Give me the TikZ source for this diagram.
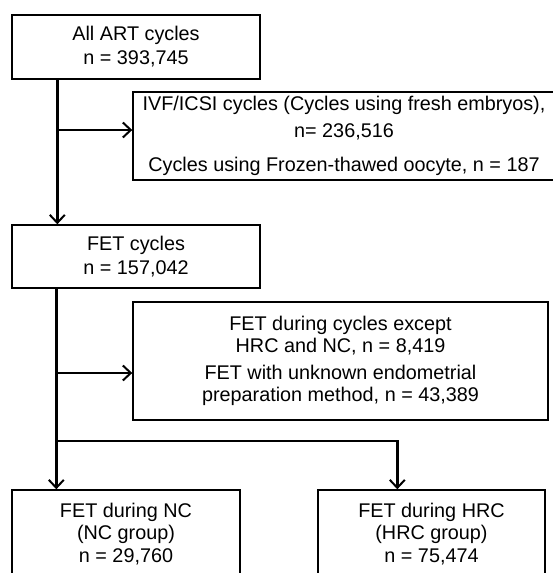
\documentclass[tikz,border=0pt]{standalone}
\usepackage{fontspec}
\setmainfont{Liberation Sans}
\usetikzlibrary{calc,arrows.meta}

\begin{document}
\begin{tikzpicture}[x=1pt,y=-1pt,
  box/.style={draw,line width=1.4pt,inner sep=0pt,align=center,
    font=\fontsize{19.8}{22.5}\selectfont},
  flow/.style={line width=2.4pt,-{Straight Barb[length=8pt,width=15pt,line width=2pt]}}]
\useasboundingbox (0,0) rectangle (553,573);
\clip (0,0) rectangle (553,573);
% boxes
\node[box,minimum width=248pt,minimum height=64pt] (all) at (136,47)
  {All ART cycles\\[1.5pt]n = 393,745};
\node[box,minimum width=422pt,minimum height=88pt] (fresh) at (344,136)
  {IVF/ICSI cycles (Cycles using fresh embryos),\\[4pt]n= 236,516\\[12pt]Cycles using Frozen-thawed oocyte, n = 187};
\node[box,minimum width=248pt,minimum height=63pt] (fet) at (136,256.5)
  {FET cycles\\[1.5pt]n = 157,042};
\node[box,minimum width=415pt,minimum height=118pt] (drop) at (340.5,361)
  {FET during cycles except\\HRC and NC, n = 8,419\\[4pt]FET with unknown endometrial\\preparation method, n = 43,389};
\node[box,minimum width=228pt,minimum height=88pt] (nc) at (126,534)
  {FET during NC\\(NC group)\\n = 29,760};
\node[box,minimum width=227pt,minimum height=88pt] (hrc) at (431.5,534)
  {FET during HRC\\(HRC group)\\n = 75,474};
% connectors
\coordinate (top) at ([xshift=46pt]all.south west);
\coordinate (mid) at ([xshift=45pt]fet.south west);
\coordinate (split) at (mid |- 0,441);
\draw[flow] (top) -- (top |- fet.north);
\draw[flow] (top |- 0,130) -- (fresh.west |- 0,130);
\draw[flow] (mid) -- (mid |- nc.north);
\draw[flow] (mid |- 0,373) -- (drop.west |- 0,373);
\draw[flow] (split) -| ([xshift=80pt]hrc.north west);
\end{tikzpicture}
\end{document}
